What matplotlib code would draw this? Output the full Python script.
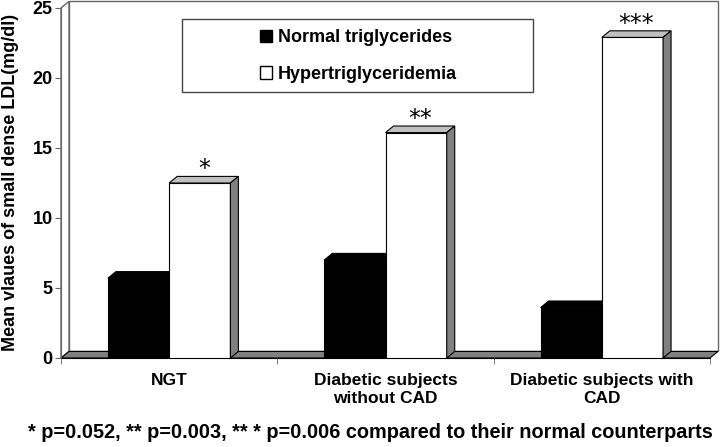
import matplotlib
matplotlib.use("Agg")
import matplotlib.pyplot as plt
import numpy as np
from matplotlib.patches import Patch, Polygon, Rectangle

plt.rcParams['font.family'] = ['Liberation Sans', 'DejaVu Sans']

categories = ['NGT', 'Diabetic subjects\nwithout CAD', 'Diabetic subjects with\nCAD']
normal_tg = [5.7, 7.0, 3.6]
hyper_tg = [12.5, 16.1, 22.9]
stars = ['*', '**', '***']
series_names = ['Normal triglycerides', 'Hypertriglyceridemia']
footnote = '* p=0.052, ** p=0.003, ** * p=0.006 compared to their normal counterparts'

W, H = 720, 447
fig = plt.figure(figsize=(W / 100, H / 100), dpi=100, facecolor='white')
ax = fig.add_axes([61 / W, 89 / H, 649 / W, 350 / H])
ax.set_xlim(-0.5, 2.5)
ax.set_ylim(0, 25)

# fake 3D depth (data units)
dx, dy = 0.037, 0.47
x = np.arange(len(categories))
w = 0.283

# back wall, side wall, floor
ax.add_patch(Rectangle((-0.5 + dx, dy), 3, 25, facecolor='white',
                       edgecolor='#666666', lw=1, clip_on=False, zorder=0.5))
ax.add_patch(Polygon([(-0.5, 0), (-0.5 + dx, dy), (-0.5 + dx, 25 + dy), (-0.5, 25)],
                     closed=True, facecolor='white', edgecolor='#666666', lw=1,
                     clip_on=False, zorder=0.6))
ax.add_patch(Polygon([(-0.5, 0), (2.5, 0), (2.5 + dx, dy), (-0.5 + dx, dy)],
                     closed=True, facecolor='#808080', edgecolor='black', lw=0.8,
                     clip_on=False, zorder=0.7))

# black bars
xb = x - w / 2
ax.bar(xb, normal_tg, w, color='black', edgecolor='black', lw=0.8, zorder=2)
for xi, h in zip(xb, normal_tg):
    x0, x1 = xi - w / 2, xi + w / 2
    ax.add_patch(Polygon([(x0, h), (x0 + dx, h + dy), (x1 + dx, h + dy), (x1, h)],
                         closed=True, facecolor='black', edgecolor='black',
                         lw=0.8, zorder=2, clip_on=False))

# white bars
xw = x + w / 2
ax.bar(xw, hyper_tg, w, color='white', edgecolor='black', lw=0.8, zorder=3)
for xi, h, s in zip(xw, hyper_tg, stars):
    x0, x1 = xi - w / 2, xi + w / 2
    ax.add_patch(Polygon([(x0, h), (x0 + dx, h + dy), (x1 + dx, h + dy), (x1, h)],
                         closed=True, facecolor='#c0c0c0', edgecolor='black',
                         lw=0.8, zorder=3, clip_on=False))
    ax.add_patch(Polygon([(x1, 0), (x1 + dx, dy), (x1 + dx, h + dy), (x1, h)],
                         closed=True, facecolor='#808080', edgecolor='black',
                         lw=0.8, zorder=3, clip_on=False))
    ax.text(xi + dx / 2, h + dy + 0.5, s, ha='center', va='center',
            fontsize=17, family='DejaVu Sans', zorder=4)

# axes styling
for side in ['top', 'right']:
    ax.spines[side].set_visible(False)
ax.spines['left'].set_color('#666666')
ax.spines['bottom'].set_color('black')
ax.spines['left'].set_zorder(1)
ax.spines['bottom'].set_zorder(1)

ax.set_yticks(range(0, 26, 5))
ax.tick_params(axis='y', direction='out', length=4, pad=2, labelsize=13,
               color='#666666')
for t in ax.get_yticklabels():
    t.set_fontweight('bold')

ax.set_xticks(x)
ax.set_xticklabels(categories, fontsize=12.5, fontweight='bold')
ax.tick_params(axis='x', length=0, pad=11)
ax.set_xticks(np.arange(-0.5, 3, 1), minor=True)
ax.tick_params(axis='x', which='minor', direction='out', length=4, color='#666666')

fig.text(11 / W, 1 - 182 / H, 'Mean vlaues of small dense LDL(mg/dl)', rotation=90,
         ha='center', va='center', fontsize=13, fontweight='bold')
fig.text(370 / W, 1 - 432 / H, footnote, ha='center', va='center',
         fontsize=14.3, fontweight='bold')

# legend
fig.patches.append(Rectangle((182 / W, 1 - 92 / H), 351 / W, 73 / H,
                             transform=fig.transFigure, facecolor='white',
                             edgecolor='#444444', lw=1, zorder=5))
handles = [Patch(facecolor='black', edgecolor='black'),
           Patch(facecolor='white', edgecolor='black')]
leg = fig.legend(handles, series_names, loc='center left',
                 bbox_to_anchor=(260 / W, 1 - 56 / H), bbox_transform=fig.transFigure,
                 frameon=False, borderpad=0, borderaxespad=0, handlelength=0.67,
                 handleheight=0.67, handletextpad=0.3, labelspacing=1.1,
                 prop={'size': 13, 'weight': 'bold'})
leg.set_zorder(6)

fig.savefig('out.png', dpi=100, facecolor='white')
